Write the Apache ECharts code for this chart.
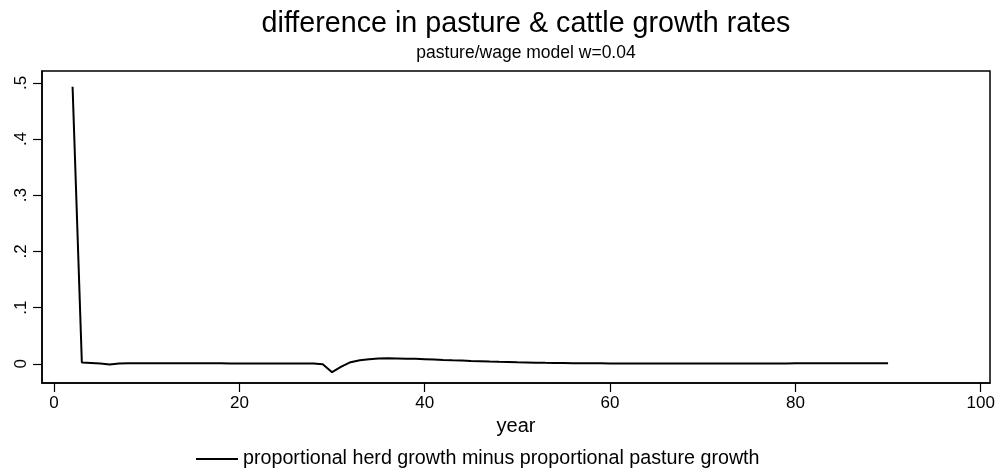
<!DOCTYPE html>
<html>
<head>
<meta charset="utf-8">
<script src="https://cdn.jsdelivr.net/npm/echarts@6/dist/echarts.min.js"></script>
<style>
  html, body { margin: 0; padding: 0; background: #fff; }
  #chart { width: 1001px; height: 475px; }
</style>
</head>
<body>
<div id="chart"></div>
<script>
const years = [
  2, 3, 4, 5, 6, 7, 8, 9, 10, 11, 12, 13, 14, 15, 16, 17, 18, 19, 20,
  21, 22, 23, 24, 25, 26, 27, 28, 29, 30, 31, 32, 33, 34, 35, 36, 37, 38, 39, 40,
  41, 42, 43, 44, 45, 46, 47, 48, 49, 50, 51, 52, 53, 54, 55, 56, 57, 58, 59, 60,
  61, 62, 63, 64, 65, 66, 67, 68, 69, 70, 71, 72, 73, 74, 75, 76, 77, 78, 79, 80,
  81, 82, 83, 84, 85, 86, 87, 88, 89, 90
];
const growthDiff = [
  0.493, 0.0025, 0.0015, 0.0005, -0.001, 0.0005, 0.001, 0.0012, 0.0012,
  0.0011, 0.0011, 0.0011, 0.0010, 0.0010, 0.0010, 0.0010, 0.0010, 0.0009, 0.0009,
  0.0009, 0.0009, 0.0009, 0.0009, 0.0008, 0.0008, 0.0008, 0.0008, -0.0005, -0.0148,
  -0.005, 0.003, 0.0065, 0.0083, 0.0095, 0.0100, 0.0097, 0.0093, 0.0090, 0.0084,
  0.0078, 0.0071, 0.0065, 0.0060, 0.0053, 0.0047, 0.0041, 0.0036, 0.0032, 0.0028,
  0.0025, 0.0022, 0.0019, 0.0017, 0.0015, 0.0013, 0.0012, 0.0011, 0.0010, 0.0009,
  0.0008, 0.0008, 0.0008, 0.0008, 0.0008, 0.0008, 0.0008, 0.0008, 0.0008, 0.0008,
  0.0008, 0.0008, 0.0008, 0.0008, 0.0008, 0.0008, 0.0008, 0.0008, 0.0008, 0.0010,
  0.0010, 0.0010, 0.0010, 0.0010, 0.0010, 0.0010, 0.0010, 0.0010, 0.0010, 0.0010
];
const xTicks = [0, 20, 40, 60, 80, 100];
const yTicks = [0, 0.1, 0.2, 0.3, 0.4, 0.5];
const yTickLabels = ["0", ".1", ".2", ".3", ".4", ".5"];

const font = "Liberation Sans, Arial, Helvetica, sans-serif";
const myChart = echarts.init(document.getElementById("chart"));
myChart.setOption({
  animation: false,
  title: {
    text: "difference in pasture & cattle growth rates",
    subtext: "pasture/wage model w=0.04",
    left: 521,
    textAlign: "center",
    top: 5,
    itemGap: 5,
    textStyle: { color: "#000", fontSize: 28.7, fontWeight: "normal", fontFamily: font },
    subtextStyle: { color: "#000", fontSize: 17.5, fontFamily: font },
  },
  legend: {
    bottom: 1,
    left: 191,
    itemWidth: 42,
    itemHeight: 2,
    itemGap: 7,
    icon: "rect",
    data: ["proportional herd growth minus proportional pasture growth"],
    textStyle: { color: "#000", fontSize: 19.7, fontFamily: font },
  },
  grid: {
    left: 42,
    right: 11,
    top: 71,
    bottom: 92,
    show: true,
    borderColor: "#000",
    borderWidth: 1.5,
  },
  xAxis: {
    type: "value",
    min: -1.3,
    max: 101,
    name: "year",
    nameLocation: "middle",
    nameGap: 33,
    nameTextStyle: { color: "#000", fontSize: 20, fontFamily: font },
    axisLine: { show: true, onZero: false, lineStyle: { color: "#000", width: 1.5 } },
    axisTick: { show: true, length: 9, customValues: xTicks, lineStyle: { color: "#000", width: 1.2 } },
    axisLabel: { customValues: xTicks, color: "#000", fontSize: 17, fontFamily: font, margin: 12 },
    splitLine: { show: false },
  },
  yAxis: {
    type: "value",
    min: -0.034,
    max: 0.521,
    axisLine: { show: true, onZero: false, lineStyle: { color: "#000", width: 1.5 } },
    axisTick: { show: true, length: 9, customValues: yTicks, lineStyle: { color: "#000", width: 1.2 } },
    axisLabel: {
      customValues: yTicks,
      rotate: 90,
      color: "#000",
      fontSize: 17,
      fontFamily: font,
      margin: 12,
      formatter: function (v) {
        const i = yTicks.findIndex(function (t) { return Math.abs(t - v) < 1e-9; });
        return i >= 0 ? yTickLabels[i] : "";
      },
    },
    splitLine: { show: false },
  },
  series: [
    {
      name: "proportional herd growth minus proportional pasture growth",
      type: "line",
      symbol: "none",
      lineStyle: { color: "#000", width: 2 },
      itemStyle: { color: "#000" },
      data: years.map(function (y, i) { return [y, growthDiff[i]]; }),
    },
  ],
});
</script>
</body>
</html>
